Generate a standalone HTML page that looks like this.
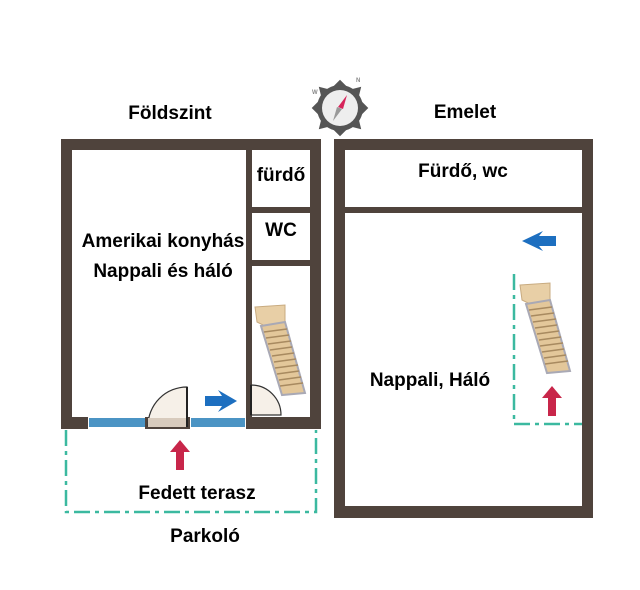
<!DOCTYPE html>
<html><head><meta charset="utf-8"><style>
body{margin:0;background:#fff;}
svg text{font-family:"Liberation Sans",sans-serif;font-weight:bold;fill:#000;}
</style></head><body>
<svg width="640" height="585" viewBox="0 0 640 585" xmlns="http://www.w3.org/2000/svg">
<defs>
<g id="stairs">
 <polygon points="0,2 30,0 30,17 10,21 2,17" fill="#e8cfa6" stroke="#c8ab80" stroke-width="1"/>
 <polygon points="6,21 30,17 50,88 27,90" fill="#e3c79a" stroke="#a9a9b5" stroke-width="2"/>
 <g stroke="#a88a60" stroke-width="1.5">
  <line x1="9" y1="27" x2="32" y2="24"/><line x1="11" y1="33" x2="34" y2="30"/>
  <line x1="13" y1="39" x2="36" y2="36"/><line x1="15" y1="45" x2="37" y2="42"/>
  <line x1="17" y1="51" x2="39" y2="48"/><line x1="19" y1="57" x2="41" y2="54"/>
  <line x1="20" y1="63" x2="43" y2="60"/><line x1="22" y1="69" x2="44" y2="66"/>
  <line x1="24" y1="75" x2="46" y2="72"/><line x1="25" y1="81" x2="48" y2="78"/>
 </g>
</g>
<g id="red"><polygon points="10,0 20,12 14,12 14,30 6,30 6,12 0,12" fill="#c8264a"/></g>
</defs>

<!-- left building -->
<rect x="61" y="139" width="260" height="11" fill="#4f433c"/>
<rect x="61" y="139" width="11" height="290" fill="#4f433c"/>
<rect x="310" y="139" width="11" height="290" fill="#4f433c"/>
<rect x="246" y="150" width="6" height="270" fill="#4f433c"/>
<rect x="246" y="207" width="70" height="6" fill="#4f433c"/>
<rect x="246" y="260" width="70" height="6" fill="#4f433c"/>
<rect x="61" y="417" width="27" height="12" fill="#4f433c"/>
<rect x="246" y="417" width="75" height="12" fill="#4f433c"/>
<rect x="145" y="417" width="45" height="12" fill="#4f433c"/>
<rect x="89" y="418" width="56" height="9" fill="#4b94c4"/>
<rect x="191" y="418" width="54" height="9" fill="#4b94c4"/>
<path d="M187,426 L148,426 A39,39 0 0 1 187,387 Z" fill="#f6f0e8" stroke="#333" stroke-width="1.2"/>
<rect x="148" y="418" width="39" height="9" fill="#d8cbbd"/>
<line x1="187" y1="387" x2="187" y2="427" stroke="#222" stroke-width="2"/>
<path d="M251,385 A30,30 0 0 1 281,415 L251,415 Z" fill="#f6f0e8" stroke="#333" stroke-width="1.2"/>
<line x1="251" y1="385" x2="251" y2="415" stroke="#222" stroke-width="2"/>
<use href="#stairs" x="255" y="305"/>
<polygon points="205,396 222,396 218,390 237,401 218,412 222,406 205,406" fill="#1d6fc0"/>
<use href="#red" x="170" y="440"/>
<path d="M66,430 V512 H316 V430" fill="none" stroke="#3bb9a0" stroke-width="2.5" stroke-dasharray="16,5,4,5"/>
<text x="170" y="119" font-size="19" text-anchor="middle">Földszint</text>
<text x="163" y="247" font-size="19" text-anchor="middle">Amerikai konyhás</text>
<text x="163" y="277" font-size="19" text-anchor="middle">Nappali és háló</text>
<text x="281" y="181" font-size="19" text-anchor="middle">fürdő</text>
<text x="281" y="236" font-size="19" text-anchor="middle">WC</text>
<text x="197" y="499" font-size="19" text-anchor="middle">Fedett terasz</text>
<text x="205" y="542" font-size="19" text-anchor="middle">Parkoló</text>

<!-- compass -->
<g transform="translate(340,108)">
 <polygon points="0,-30 6,-20 20,-20 20,-6 30,0 20,6 20,20 6,20 0,30 -6,20 -20,20 -20,6 -30,0 -20,-6 -20,-20 -6,-20" fill="#555" transform="rotate(45)"/>
 <circle r="23" fill="#555"/>
 <circle r="18" fill="#eee"/>
 <polygon points="7,-13 3,1 -2,-1" fill="#d6245a"/>
 <polygon points="-7,13 -3,-1 2,1" fill="#999"/>
 <text x="-28" y="-14" font-size="6" style="fill:#888">W</text>
 <text x="16" y="-26" font-size="6" style="fill:#888">N</text>
</g>

<!-- right building -->
<rect x="334" y="139" width="259" height="11" fill="#4f433c"/>
<rect x="334" y="139" width="11" height="379" fill="#4f433c"/>
<rect x="582" y="139" width="11" height="379" fill="#4f433c"/>
<rect x="334" y="506" width="259" height="12" fill="#4f433c"/>
<rect x="345" y="207" width="237" height="6" fill="#4f433c"/>
<text x="465" y="118" font-size="19" text-anchor="middle">Emelet</text>
<text x="463" y="177" font-size="19" text-anchor="middle">Fürdő, wc</text>
<text x="430" y="386" font-size="19" text-anchor="middle">Nappali, Háló</text>
<polygon points="556,236 539,236 543,231 522,241 543,251 539,246 556,246" fill="#1d6fc0"/>
<path d="M514,274 V424 H582" fill="none" stroke="#3bb9a0" stroke-width="2.5" stroke-dasharray="16,5,4,5"/>
<use href="#stairs" x="520" y="283"/>
<use href="#red" x="542" y="386"/>
</svg>
</body></html>
